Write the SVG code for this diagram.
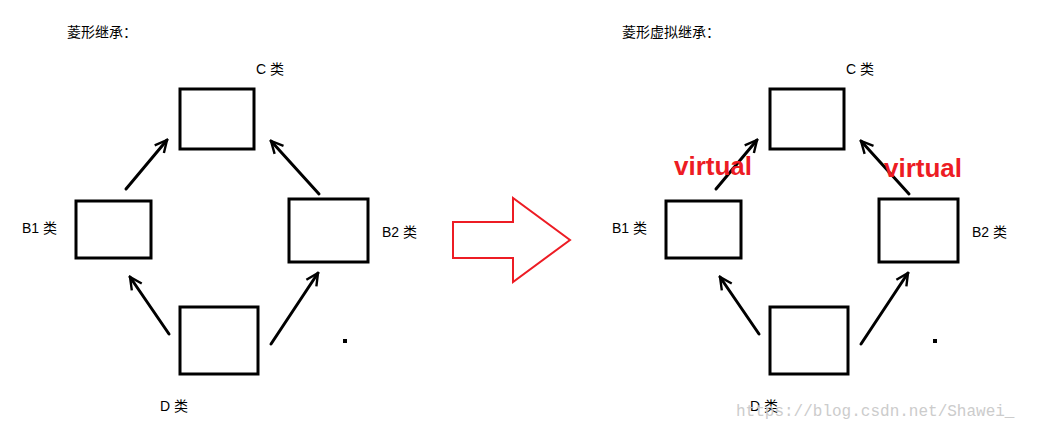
<svg xmlns="http://www.w3.org/2000/svg" width="1038" height="431" viewBox="0 0 1038 431">
<style>
.b{fill:none;stroke:#000;stroke-width:3}
.a{fill:none;stroke:#000;stroke-width:3;stroke-linecap:round}
.t{font-family:"Liberation Sans","Noto Sans CJK SC",sans-serif;font-size:14px;fill:#000}
.v{font-family:"Liberation Sans",sans-serif;font-size:26px;font-weight:bold;fill:#ed1c24}
</style>
<defs>
<marker id="m" viewBox="0 0 10 10" refX="9" refY="5" markerWidth="5" markerHeight="5" orient="auto"><path d="M1,1 L9,5 L1,9" fill="none" stroke="#000" stroke-width="1.6"/></marker>
</defs>
<rect width="1038" height="431" fill="#fff"/>
<text class="t" x="67" y="37">菱形继承：</text>
<text class="t" x="622" y="37">菱形虚拟继承：</text>
<g id="left">
<g id="C1"><rect class="b" x="180" y="89" width="74" height="60"/><text class="t" x="256" y="74">C 类</text></g>
<g id="B1a"><rect class="b" x="76" y="201" width="75" height="57"/><text class="t" x="22" y="233">B1 类</text></g>
<g id="B2a"><rect class="b" x="289" y="199" width="79" height="63"/><text class="t" x="382" y="237">B2 类</text></g>
<g id="D1"><rect class="b" x="180" y="307" width="78" height="67"/><text class="t" x="160" y="411">D 类</text></g>
</g>
<g id="right">
<g id="C2"><rect class="b" x="770" y="89" width="74" height="60"/><text class="t" x="846" y="74">C 类</text></g>
<g id="B1b"><rect class="b" x="666" y="201" width="75" height="57"/><text class="t" x="612" y="233">B1 类</text></g>
<g id="B2b"><rect class="b" x="879" y="199" width="79" height="63"/><text class="t" x="972" y="237">B2 类</text></g>
<g id="D2"><rect class="b" x="770" y="307" width="78" height="67"/><text class="t" x="750" y="411">D 类</text></g>
</g>
<g id="connectors">
<line class="a" x1="126" y1="189" x2="167" y2="140" marker-end="url(#m)"/>
<line class="a" x1="319" y1="194" x2="271" y2="141" marker-end="url(#m)"/>
<line class="a" x1="169" y1="334" x2="130" y2="277" marker-end="url(#m)"/>
<line class="a" x1="271" y1="344" x2="318" y2="273" marker-end="url(#m)"/>
<line class="a" x1="716" y1="189" x2="757" y2="140" marker-end="url(#m)"/>
<line class="a" x1="909" y1="194" x2="861" y2="141" marker-end="url(#m)"/>
<line class="a" x1="759" y1="334" x2="720" y2="277" marker-end="url(#m)"/>
<line class="a" x1="861" y1="344" x2="908" y2="273" marker-end="url(#m)"/>
<polygon points="453,222 513,222 513,198 570,240 513,282 513,258 453,258" fill="#fff" stroke="#ed1c24" stroke-width="2"/>
</g>
<rect x="343" y="339" width="4" height="4" fill="#000"/>
<rect x="933" y="339" width="4" height="4" fill="#000"/>
<text class="v" x="674" y="175">virtual</text>
<text class="v" x="884" y="177">virtual</text>
<text x="736" y="416" font-family="Liberation Mono,monospace" font-size="16" fill="#ccc">https://blog.csdn.net/Shawei_</text>
</svg>
